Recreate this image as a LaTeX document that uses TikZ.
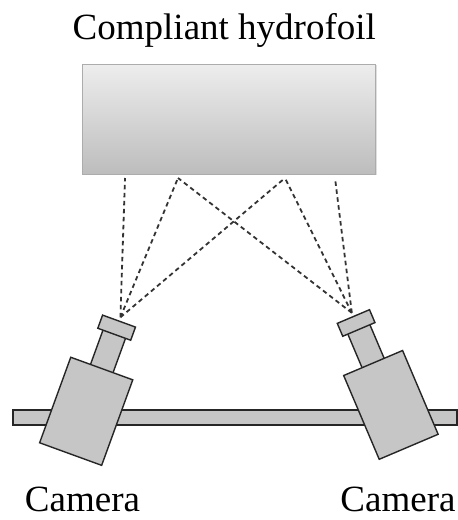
\documentclass[tikz,border=0pt]{standalone}
\usepackage{fontspec}
\setmainfont{Liberation Serif}
\usetikzlibrary{positioning, shadows}

\begin{document}
\begin{tikzpicture}[x=1pt, y=-1pt,
    font=\fontsize{37}{40}\selectfont,
    part/.style={draw=black!85, line width=1.4pt, fill=gray!45, inner sep=0pt},
    ray/.style={dash pattern=on 4.5pt off 3.5pt, line width=1.8pt, draw=black!80}]
    \useasboundingbox (0,0) rectangle (458,520);

    % Add the hydrofoil and its title
        \node[draw=gray!65,
              line width=0.9pt,
              top color=gray!14,
              bottom color=gray!52,
              minimum width=293pt,
              minimum height=110pt,
              drop shadow={shadow xshift=1.2pt, shadow yshift=-1.2pt, opacity=0.25}] (foil) at (229.3,119.2) {};
        \node[above=16pt of foil,
              xshift=-5pt,
              inner sep=0pt] (title) {Compliant hydrofoil};

    % Points seen on the lower face of the hydrofoil
        \coordinate (fA) at (125,178);
        \coordinate (fB) at (178,178);
        \coordinate (fC) at (285,178);
        \coordinate (fD) at (335,178);

    % Add the rail
        \node[part,
              line width=1.6pt,
              minimum width=444pt,
              minimum height=15pt] (rail) at (235,417.5) {};

    % Left camera
        \begin{scope}[shift={(86.2,411.3)}, rotate=-20, transform shape]
            \node[part, minimum width=24pt, minimum height=38pt] (neckL) at (0,-63.5) {};
            \node[part, minimum width=66pt, minimum height=91pt] (bodyL) at (0,0) {};
            \node[part, minimum width=35pt, minimum height=14pt] (capL) at (0,-89) {};
            \coordinate (eyeL) at (0,-100);
        \end{scope}

    % Right camera
        \begin{scope}[shift={(390.9,404.9)}, rotate=23, transform shape]
            \node[part, minimum width=24pt, minimum height=38pt] (neckR) at (0,-63.5) {};
            \node[part, minimum width=64pt, minimum height=91pt] (bodyR) at (0,0) {};
            \node[part, minimum width=35pt, minimum height=14pt] (capR) at (0,-89) {};
            \coordinate (eyeR) at (0,-100);
        \end{scope}

    % Lines of sight
        \draw[ray]
            (eyeL) -- (fA)
            (eyeL) -- (fB)
            (eyeL) -- (fC)
            (eyeR) -- (fB)
            (eyeR) -- (fC)
            (eyeR) -- (fD);

        \node[anchor=base] (camL) at (82.5,511) {Camera};
        \node[anchor=base] (camR) at (398,511) {Camera};
\end{tikzpicture}
\end{document}
